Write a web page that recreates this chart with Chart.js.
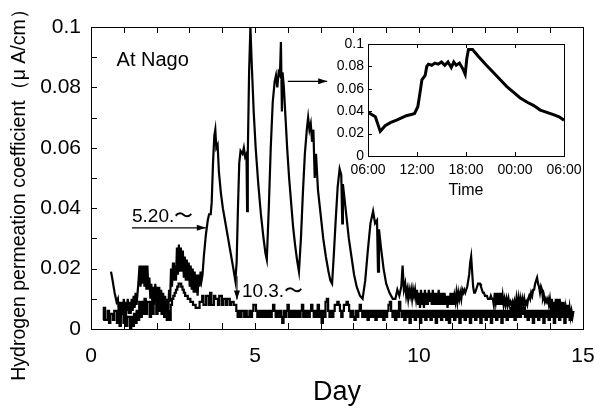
<!DOCTYPE html>
<html>
<head>
<meta charset="utf-8">
<script src="https://cdn.jsdelivr.net/npm/chart.js@4/dist/chart.umd.min.js"></script>
<style>
  body { margin: 0; background: #fff; }
  #wrap { position: relative; width: 595px; height: 410px; }
  #main { position: absolute; left: 0; top: 0; }
  #inset { position: absolute; left: 320px; top: 35px; }
</style>
</head>
<body>
<div id="wrap">
  <canvas id="main" width="595" height="410"></canvas>
  <canvas id="inset" width="270" height="165"></canvas>
</div>
<script>
// ---- series starting 5.20 (the one with the big daily peaks) ----
// first few readings
var mayHeadDays = [0.61, 0.66, 0.72, 0.78];
var mayHeadValues = [0.019, 0.016, 0.012, 0.009];
// noisy stretch, sampled every 0.03 day from day 0.82
var mayEarlyStart = 0.82, mayEarlyStep = 0.03;
var mayEarly = [
  0.010,0.005,0.009,0.004,0.009,0.005,0.010,0.004,0.009,0.006,
  0.010,0.005,0.009,0.005,0.010,0.006,0.011,0.007,0.012,0.008,
  0.012,0.016,0.021,0.014,0.021,0.015,0.021,0.014,0.021,0.013,
  0.021,0.013,0.017,0.010,0.015,0.009,0.014,0.008,0.015,0.009,
  0.014,0.008,0.014,0.007,0.013,0.006,0.012,0.006,0.011,0.005,
  0.010,0.004,0.013,0.009,0.020,0.014,0.022,0.016,0.021,0.016,
  0.027,0.018,0.028,0.019,0.027,0.019,0.026,0.017,0.024,0.016,
  0.023,0.016,0.022,0.014,0.021,0.013,0.020,0.012,0.019,0.012,
  0.018,0.011,0.018,0.014,0.019,0.016,0.018];
// the peaks
var mayPeakDays = [3.44,3.5,3.56,3.6,3.65,3.68,3.72,3.76,3.79,3.82,3.86,3.9,3.96,4.02,4.1,4.18,4.26,4.34,4.4,4.44,
  4.48,4.52,4.56,4.62,4.66,4.7,4.74,4.76,4.78,4.82,4.86,4.9,4.96,5.02,5.1,5.18,5.26,5.32,5.36,5.42,
  5.48,5.54,5.6,5.64,5.68,5.72,5.76,5.79,5.82,5.84,5.88,5.92,5.98,6.04,6.1,6.16,6.22,6.28,6.34,6.4,
  6.46,6.52,6.58,6.62,6.66,6.7,6.74,6.78,6.82,6.86,6.92,7.0,7.08,7.16,7.24,7.3,7.35,7.4,7.46,7.52,
  7.58,7.63,7.66,7.68,7.72,7.78,7.86,7.94,8.02,8.1,8.2,8.28,8.36,8.44,8.52,8.6,8.66,8.72,8.75,8.78,
  8.84,8.92,9.0,9.1,9.2,9.28,9.34,9.4,9.46,9.5,9.54,9.58];
var mayPeakValues = [0.024,0.031,0.036,0.038,0.038,0.042,0.055,0.064,0.066,0.060,0.061,0.052,0.045,0.040,0.035,0.030,0.025,0.020,0.016,0.022,
  0.040,0.055,0.059,0.058,0.060,0.057,0.058,0.039,0.058,0.085,0.100,0.088,0.072,0.060,0.048,0.038,0.030,0.025,0.023,0.040,
  0.060,0.075,0.082,0.084,0.080,0.085,0.084,0.095,0.072,0.085,0.080,0.072,0.060,0.050,0.042,0.034,0.028,0.023,0.019,0.030,
  0.045,0.058,0.066,0.070,0.066,0.068,0.062,0.066,0.050,0.058,0.046,0.038,0.030,0.024,0.019,0.016,0.015,0.024,0.036,0.047,
  0.053,0.051,0.035,0.048,0.044,0.038,0.030,0.024,0.018,0.014,0.011,0.010,0.016,0.026,0.035,0.039,0.035,0.036,0.019,0.033,
  0.027,0.020,0.015,0.012,0.010,0.010,0.013,0.011,0.014,0.021,0.013,0.015];
// noisy tail, sampled every 0.03 day from day 9.61
var mayLateStart = 9.61, mayLateStep = 0.03;
var mayLate = [
  0.011,0.013,0.010,0.013,0.011,0.013,0.010,0.013,0.011,0.013,
  0.010,0.013,0.008,0.012,0.007,0.013,0.008,0.012,0.007,0.013,
  0.008,0.012,0.008,0.013,0.009,0.012,0.008,0.013,0.008,0.012,
  0.008,0.012,0.008,0.013,0.008,0.012,0.008,0.012,0.008,0.012,
  0.008,0.011,0.007,0.011,0.008,0.012,0.008,0.012,0.008,0.011,
  0.009,0.012,0.009,0.012,0.010,0.012,0.010,0.013,0.012,0.013,
  0.012,0.013,0.014,0.016,0.018,0.022,0.024,0.019,0.014,0.012,
  0.012,0.013,0.014,0.015,0.015,0.015,0.014,0.013,0.012,0.012,
  0.011,0.011,0.011,0.010,0.010,0.010,0.011,0.010,0.010,0.008,
  0.012,0.009,0.012,0.008,0.012,0.008,0.012,0.008,0.011,0.008,
  0.010,0.008,0.010,0.008,0.010,0.008,0.009,0.008,0.009,0.007,
  0.009,0.007,0.010,0.007,0.010,0.007,0.010,0.008,0.010,0.008,
  0.010,0.008,0.009,0.008,0.010,0.011,0.010,0.012,0.011,0.013,
  0.013,0.015,0.016,0.017,0.015,0.014,0.012,0.014,0.013,0.010,
  0.011,0.009,0.010,0.009,0.010,0.008,0.010,0.007,0.010,0.006,
  0.009,0.005,0.010,0.006,0.010,0.005,0.010,0.006,0.009,0.005,
  0.009,0.004,0.007,0.004,0.008,0.004,0.007,0.004,0.006,0.004,0.006];

// ---- series starting 10.3 (the low one), sampled every 0.04 day from day 0.37 ----
var octStart = 0.37, octStep = 0.04;
var octValues = [
  0.003,0.007,0.003,0.003,0.006,0.002,0.005,0.005,0.003,0.006,0.006,0.002,0.005,0.001,0.005,0.005,0.002,0.006,0.001,0.004,0.004,0.000,0.004,0.001,0.005,
  0.002,0.006,0.003,0.009,0.004,0.009,0.005,0.010,0.005,0.009,0.009,0.004,0.009,0.005,0.010,0.010,0.005,0.011,0.006,0.010,0.005,0.008,0.004,0.007,0.003,
  0.006,0.003,0.008,0.010,0.011,0.012,0.013,0.014,0.015,0.015,0.014,0.013,0.012,0.011,0.011,0.010,0.010,0.009,0.009,0.008,0.008,0.007,0.007,0.007,0.009,
  0.009,0.011,0.008,0.008,0.011,0.011,0.008,0.012,0.008,0.008,0.011,0.010,0.010,0.008,0.011,0.011,0.008,0.010,0.010,0.008,0.010,0.010,0.008,0.009,0.009,
  0.008,0.008,0.006,0.004,0.006,0.004,0.006,0.006,0.004,0.006,0.004,0.004,0.006,0.004,0.006,0.008,0.008,0.006,0.004,0.006,0.004,0.006,0.004,0.006,0.004,
  0.006,0.004,0.006,0.004,0.006,0.008,0.006,0.004,0.006,0.004,0.006,0.004,0.002,0.006,0.004,0.006,0.008,0.004,0.006,0.004,0.006,0.004,0.006,0.004,0.006,
  0.004,0.006,0.008,0.004,0.006,0.004,0.006,0.004,0.006,0.008,0.006,0.004,0.006,0.004,0.008,0.004,0.006,0.002,0.006,0.004,0.009,0.010,0.006,0.004,0.006,
  0.004,0.006,0.008,0.008,0.009,0.008,0.006,0.004,0.006,0.008,0.008,0.009,0.008,0.006,0.004,0.006,0.004,0.003,0.006,0.004,0.006,0.008,0.006,0.004,0.006,
  0.004,0.006,0.003,0.006,0.004,0.006,0.004,0.006,0.003,0.006,0.004,0.006,0.004,0.006,0.003,0.006,0.004,0.006,0.008,0.009,0.006,0.004,0.006,0.003,0.006,
  0.004,0.009,0.006,0.004,0.006,0.003,0.006,0.004,0.006,0.002,0.006,0.004,0.006,0.003,0.006,0.004,0.006,0.002,0.006,0.004,0.006,0.003,0.006,0.004,0.006,
  0.003,0.006,0.004,0.006,0.002,0.006,0.004,0.006,0.003,0.006,0.004,0.006,0.003,0.006,0.002,0.006,0.004,0.006,0.003,0.006,0.004,0.006,0.002,0.006,0.004,
  0.006,0.003,0.006,0.004,0.006,0.002,0.006,0.004,0.006,0.003,0.006,0.004,0.006,0.002,0.006,0.004,0.006,0.003,0.006,0.004,0.006,0.002,0.006,0.004,0.006,
  0.003,0.006,0.004,0.006,0.002,0.006,0.004,0.006,0.003,0.006,0.004,0.007,0.004,0.007,0.003,0.006,0.004,0.007,0.004,0.007,0.005,0.007,0.004,0.006,0.003,
  0.006,0.004,0.006,0.002,0.006,0.004,0.006,0.003,0.006,0.004,0.006,0.002,0.006,0.004,0.006,0.003,0.006,0.004,0.006,0.002,0.006,0.004,0.006,0.003,0.006,
  0.004,0.006,0.002,0.006,0.004,0.006,0.003,0.005,0.004];

// ---- inset: one day from 06:00 (hours; 30 = 06:00 next day) ----
var insetHours = [6,6.9,7.5,8.1,8.8,9.5,10.1,10.7,11.3,11.7,12.1,12.4,12.6,13.0,13.2,13.4,13.8,14.2,14.6,15.0,15.4,15.8,16.2,16.5,16.8,17.2,17.6,17.9,18.1,18.3,18.8,19.5,20.5,21.3,22.2,23.0,23.8,24.6,25.5,26.3,27.1,27.9,28.7,29.4,30];
var insetValues = [0.039,0.035,0.022,0.027,0.030,0.032,0.034,0.036,0.037,0.038,0.044,0.058,0.068,0.072,0.080,0.082,0.081,0.083,0.082,0.084,0.081,0.084,0.079,0.084,0.081,0.083,0.078,0.073,0.087,0.095,0.095,0.089,0.081,0.075,0.068,0.062,0.057,0.052,0.048,0.045,0.041,0.039,0.037,0.035,0.032];

var FONT = "'Liberation Sans', Arial, sans-serif";

function pts(xs, ys) {
  return xs.map(function (x, i) { return { x: x, y: ys[i] }; });
}
function sampled(start, step, ys) {
  return ys.map(function (y, i) { return { x: +(start + i * step).toFixed(3), y: y }; });
}

var mayPoints = pts(mayHeadDays, mayHeadValues)
  .concat(sampled(mayEarlyStart, mayEarlyStep, mayEarly))
  .concat(pts(mayPeakDays, mayPeakValues))
  .concat(sampled(mayLateStart, mayLateStep, mayLate));
var octPoints = sampled(octStart, octStep, octValues);

// inward ticks + box frame
function frameTicks(len) {
  return {
    id: 'frameTicks',
    afterDraw: function (chart) {
      var c = chart.ctx, a = chart.chartArea;
      var xs = chart.scales.x, ys = chart.scales.y;
      c.save();
      c.strokeStyle = '#000';
      c.lineWidth = 1;
      c.strokeRect(a.left + 0.5, a.top + 0.5, a.right - a.left, a.bottom - a.top);
      c.beginPath();
      xs.ticks.forEach(function (t) {
        var px = Math.round(xs.getPixelForValue(t.value)) + 0.5;
        c.moveTo(px, a.bottom); c.lineTo(px, a.bottom - len);
        c.moveTo(px, a.top); c.lineTo(px, a.top + len);
      });
      ys.ticks.forEach(function (t) {
        var py = Math.round(ys.getPixelForValue(t.value)) + 0.5;
        c.moveTo(a.left, py); c.lineTo(a.left + len, py);
      });
      c.stroke();
      c.restore();
    }
  };
}

function arrow(c, x1, y1, x2, y2) {
  var ang = Math.atan2(y2 - y1, x2 - x1);
  c.beginPath();
  c.moveTo(x1, y1); c.lineTo(x2, y2);
  c.stroke();
  c.beginPath();
  c.moveTo(x2, y2);
  c.lineTo(x2 - 9 * Math.cos(ang) + 3 * Math.sin(ang), y2 - 9 * Math.sin(ang) - 3 * Math.cos(ang));
  c.lineTo(x2 - 9 * Math.cos(ang) - 3 * Math.sin(ang), y2 - 9 * Math.sin(ang) + 3 * Math.cos(ang));
  c.closePath();
  c.fill();
}

var notes = {
  id: 'notes',
  afterDraw: function (chart) {
    var c = chart.ctx, xs = chart.scales.x, ys = chart.scales.y;
    var X = function (v) { return xs.getPixelForValue(v); };
    var Y = function (v) { return ys.getPixelForValue(v); };
    c.save();
    c.fillStyle = '#000';
    c.strokeStyle = '#000';
    c.lineWidth = 1.2;
    c.textBaseline = 'middle';
    c.textAlign = 'left';
    c.font = '20px ' + FONT;
    c.fillText('At Nago', X(0.78), Y(0.0888));
    c.font = '19px ' + FONT;
    c.fillText('5.20.\u301C', X(1.25), Y(0.037));
    arrow(c, X(1.25), Y(0.0335), X(3.5), Y(0.0335));
    c.fillText('10.3.\u301C', X(4.6), Y(0.0123));
    arrow(c, X(4.45), Y(0.0175), X(4.45), Y(0.0098));
    arrow(c, X(6.0), Y(0.082), X(7.2), Y(0.082));
    // axis titles
    c.font = '27px ' + FONT;
    c.textAlign = 'center';
    c.fillText('Day', (chart.chartArea.left + chart.chartArea.right) / 2, 393);
    c.translate(20, 190);
    c.rotate(-Math.PI / 2);
    c.font = '19.5px ' + FONT;
    c.fillText('Hydrogen permeation coefficient\uFF08\u03BC A/cm\uFF09', 0, 0);
    c.restore();
  }
};

new Chart(document.getElementById('main'), {
  type: 'line',
  data: {
    datasets: [
      { data: mayPoints, borderColor: '#000', borderWidth: 2.2, pointRadius: 0, tension: 0 },
      { data: octPoints, borderColor: '#000', borderWidth: 2.2, pointRadius: 0, tension: 0, stepped: 'middle' }
    ]
  },
  options: {
    responsive: false,
    animation: false,
    events: [],
    layout: { padding: { top: 27, right: 12, left: 0, bottom: 0 } },
    plugins: { legend: { display: false }, tooltip: { enabled: false } },
    scales: {
      x: {
        type: 'linear', min: 0, max: 15,
        grid: { display: false, drawTicks: false },
        border: { display: false },
        ticks: {
          stepSize: 1, padding: 15, color: '#000', maxRotation: 0, autoSkip: false,
          font: { family: FONT, size: 21 },
          callback: function (v) { return v % 5 === 0 ? v : ''; }
        },
        afterFit: function (s) { s.height = 81; s.paddingLeft = 0; s.paddingRight = 0; }
      },
      y: {
        min: 0, max: 0.1,
        grid: { display: false, drawTicks: false },
        border: { display: false },
        ticks: {
          stepSize: 0.01, padding: 10, color: '#000', autoSkip: false,
          font: { family: FONT, size: 21 },
          callback: function (v) { return Math.round(v * 100) % 2 === 0 ? +v.toFixed(2) : ''; }
        },
        afterFit: function (s) { s.width = 91; s.paddingTop = 0; s.paddingBottom = 0; }
      }
    }
  },
  plugins: [frameTicks(6), notes]
});

var insetTitle = {
  id: 'insetTitle',
  afterDraw: function (chart) {
    var c = chart.ctx, a = chart.chartArea;
    c.save();
    c.fillStyle = '#000';
    c.font = '16px ' + FONT;
    c.textAlign = 'center';
    c.textBaseline = 'middle';
    c.fillText('Time', (a.left + a.right) / 2, 156);
    c.restore();
  }
};

new Chart(document.getElementById('inset'), {
  type: 'line',
  data: {
    datasets: [
      { data: pts(insetHours, insetValues), borderColor: '#000', borderWidth: 3, pointRadius: 0, tension: 0 }
    ]
  },
  options: {
    responsive: false,
    animation: false,
    events: [],
    layout: { padding: { top: 9, right: 26, left: 0, bottom: 0 } },
    plugins: { legend: { display: false }, tooltip: { enabled: false } },
    scales: {
      x: {
        type: 'linear', min: 6, max: 30,
        grid: { display: false, drawTicks: false },
        border: { display: false },
        ticks: {
          stepSize: 6, padding: 6, color: '#000', maxRotation: 0, autoSkip: false,
          font: { family: FONT, size: 14 },
          callback: function (v) { var h = v % 24; return (h < 10 ? '0' : '') + h + ':00'; }
        },
        afterFit: function (s) { s.height = 44; s.paddingLeft = 0; s.paddingRight = 0; }
      },
      y: {
        min: 0, max: 0.1,
        grid: { display: false, drawTicks: false },
        border: { display: false },
        ticks: {
          stepSize: 0.02, padding: 4, color: '#000', autoSkip: false,
          font: { family: FONT, size: 14 },
          callback: function (v) { return +v.toFixed(2); }
        },
        afterFit: function (s) { s.width = 48; s.paddingTop = 0; s.paddingBottom = 0; }
      }
    }
  },
  plugins: [frameTicks(4), insetTitle]
});
</script>
</body>
</html>
